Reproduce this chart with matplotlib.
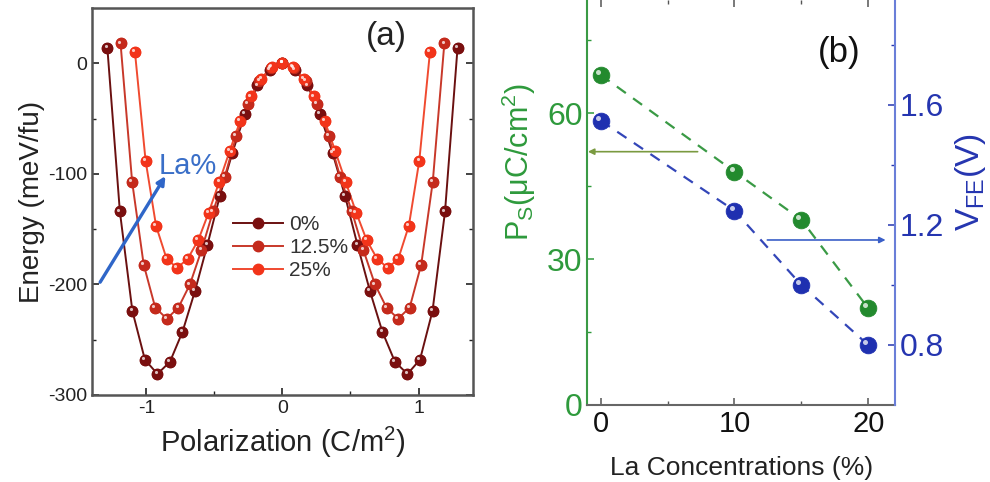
import matplotlib
matplotlib.use("Agg")
import matplotlib.pyplot as plt
from matplotlib.transforms import offset_copy

plt.rcParams["font.family"] = ["Liberation Sans", "DejaVu Sans"]
plt.rcParams["mathtext.fontset"] = "custom"
plt.rcParams["mathtext.rm"] = "Liberation Sans"
plt.rcParams["mathtext.it"] = "Liberation Sans"
plt.rcParams["axes.unicode_minus"] = False

# (a) energy vs polarization for three La contents
p_0 = [-1.287, -1.195, -1.103, -1.011, -0.919, -0.827, -0.735, -0.643, -0.551, -0.460,
       -0.368, -0.276, -0.184, -0.092, 0.0, 0.092, 0.184, 0.276, 0.368, 0.460, 0.551,
       0.643, 0.735, 0.827, 0.919, 1.011, 1.103, 1.195, 1.287]
e_0 = [14, -134, -224, -268, -281, -270, -243, -206, -164, -120, -81, -46, -20, -6, 0,
       -6, -20, -46, -81, -120, -164, -206, -243, -270, -281, -268, -224, -134, 14]

p_125 = [-1.190, -1.105, -1.020, -0.935, -0.850, -0.765, -0.680, -0.595, -0.510, -0.425,
         -0.340, -0.255, -0.170, -0.085, 0.0, 0.085, 0.170, 0.255, 0.340, 0.425, 0.510,
         0.595, 0.680, 0.765, 0.850, 0.935, 1.020, 1.105, 1.190]
e_125 = [18, -107, -182, -221, -231, -221, -200, -169, -134, -103, -66, -37, -16, -4, 0,
         -4, -16, -37, -66, -103, -134, -169, -200, -221, -231, -221, -182, -107, 18]

p_25 = [-1.084, -1.006, -0.929, -0.851, -0.774, -0.697, -0.619, -0.542, -0.464, -0.387,
        -0.310, -0.232, -0.155, -0.077, 0.0, 0.077, 0.155, 0.232, 0.310, 0.387, 0.464,
        0.542, 0.619, 0.697, 0.774, 0.851, 0.929, 1.006, 1.084]
e_25 = [10, -88, -147, -177, -185, -177, -160, -135, -107, -79, -52, -30, -14, -3, 0,
        -3, -14, -30, -52, -79, -107, -135, -160, -177, -185, -177, -147, -88, 10]

labels_a = ["0%", "12.5%", "25%"]

# (b) saturation polarization and FE voltage vs La concentration
la_conc = [0, 10, 15, 20]
ps = [67.9, 48.0, 38.1, 19.9]
vfe = [1.548, 1.248, 1.0, 0.8]


def spheres(ax, x, y, color, ms, hl=(-1.2, 1.2)):
    # ball-like markers: coloured disc plus a small bright highlight
    ax.plot(x, y, ls="none", marker="o", ms=ms, mfc=color, mec=color, mew=0.6, zorder=4)
    tr = offset_copy(ax.transData, fig=ax.figure, x=hl[0] * ms / 7, y=hl[1] * ms / 7, units="points")
    ax.plot(x, y, ls="none", marker="o", ms=ms * 0.3, mfc="white", mec="none",
            alpha=0.75, transform=tr, zorder=5)


fig = plt.figure(figsize=(9.9, 4.82), dpi=100)

# ---------------- panel (a) ----------------
ax = fig.add_axes([0.0929, 0.1805, 0.3848, 0.803])
series = [(p_0, e_0, "#7a0f0f", "#6a1010"),
          (p_125, e_125, "#c42a1c", "#c8382a"),
          (p_25, e_25, "#f2341a", "#f04a30")]
handles = []
for (px, ey, mc, lc), lab in zip(series, labels_a):
    h, = ax.plot(px, ey, color=lc, lw=1.4, marker="o", ms=7.5, mfc=mc, mec=mc, zorder=3)
    handles.append(h)
    spheres(ax, px, ey, mc, 7.5)

ax.set_xlim(-1.4, 1.4)
ax.set_ylim(-300, 50)
ax.set_xticks([-1, 0, 1])
ax.set_xticks([-0.5, 0.5], minor=True)
ax.set_yticks([0, -100, -200, -300])
ax.set_yticks([-50, -150, -250], minor=True)
ax.tick_params(which="both", direction="in", right=True, labelsize=14, colors="#222222")
ax.tick_params(which="major", length=5, width=1.2)
ax.tick_params(which="minor", length=3, width=1.0)
for s in ax.spines.values():
    s.set_color("#555555")
    s.set_linewidth(1.8)
ax.set_xlabel("Polarization (C/m$^2$)", fontsize=21, color="#222222", labelpad=6)
ax.set_ylabel("Energy (meV/fu)", fontsize=20, color="#222222", labelpad=2)

leg = ax.legend(handles, labels_a, loc="upper left", bbox_to_anchor=(0.37, 0.465),
                frameon=False, fontsize=15, handlelength=2.4, handletextpad=0.3,
                labelspacing=0.2, borderpad=0, borderaxespad=0, numpoints=1)
for t in leg.get_texts():
    t.set_color("#333333")

ax.text(0.72, 0.925, "(a)", transform=ax.transAxes, fontsize=24, color="#222222",
        ha="left", va="center")
ax.text(-0.91, -93, "La%", fontsize=21, color="#3a6fc8", ha="left", va="center")
ax.annotate("", xy=(-0.86, -102), xytext=(-1.34, -198),
            arrowprops=dict(arrowstyle="-|>", color="#2f66c8", lw=2.4, mutation_scale=12,
                            shrinkA=0, shrinkB=0))

# ---------------- panel (b) ----------------
green = "#2e9a3c"
blue = "#2535b0"
bx = fig.add_axes([0.5932, 0.1598, 0.3108, 0.8402])
bx2 = bx.twinx()

bx.plot(la_conc, ps, color="#3a9a45", lw=1.6, ls=(0, (5, 4)), zorder=2)
spheres(bx, la_conc, ps, "#238a2e", 12)
bx2.plot(la_conc, vfe, color="#3346b8", lw=1.6, ls=(0, (5, 4)), zorder=2)
spheres(bx2, la_conc, vfe, "#1f30b0", 12)

bx.set_xlim(-1, 22)
bx.set_ylim(0, 83.3)
bx2.set_ylim(0.6, 1.95)
bx.set_xticks([0, 10, 20])
bx.set_xticks([5, 15], minor=True)
bx.set_yticks([0, 30, 60])
bx.set_yticks([15, 45, 75], minor=True)
bx2.set_yticks([0.8, 1.2, 1.6])
bx2.set_yticks([1.0, 1.4, 1.8], minor=True)
bx2.set_yticklabels(["0.8", "1.2", "1.6"])

bx.tick_params(axis="x", which="both", direction="in", top=True, labelsize=21,
               colors="#555555", labelcolor="#111111")
bx.tick_params(axis="y", which="both", direction="in", labelsize=23, colors=green)
bx2.tick_params(axis="y", which="both", direction="in", labelsize=23, colors=blue)
for a in (bx, bx2):
    a.tick_params(which="major", length=5, width=1.1)
    a.tick_params(which="minor", length=3, width=1.0)

bx.spines["top"].set_visible(False)
bx.spines["right"].set_visible(False)
bx.spines["left"].set_color("#3a9a45")
bx.spines["bottom"].set_color("#666666")
for k in ("top", "left", "bottom"):
    bx2.spines[k].set_visible(False)
bx2.spines["right"].set_color("#6a7ed8")
for s in (bx.spines["left"], bx.spines["bottom"], bx2.spines["right"]):
    s.set_linewidth(1.5)

bx.set_xlabel("La Concentrations (%)", fontsize=19, color="#222222", labelpad=13)
bx.set_ylabel("P$_\\mathrm{S}$(μC/cm$^2$)", fontsize=22, color=green)
bx.yaxis.set_label_coords(-0.16, 0.6)
bx2.set_ylabel("V$_\\mathrm{FE}$(V)", fontsize=24, color=blue)
bx2.yaxis.set_label_coords(1.19, 0.55)

bx.text(0.75, 0.87, "(b)", transform=bx.transAxes, fontsize=25, color="#111111",
        ha="left", va="center")
bx.annotate("", xy=(-0.95, 52.1), xytext=(7.25, 52.1),
            arrowprops=dict(arrowstyle="-|>", color="#7a9a40", lw=1.2, mutation_scale=9,
                            shrinkA=0, shrinkB=0))
bx2.annotate("", xy=(21.3, 1.15), xytext=(12.46, 1.15),
             arrowprops=dict(arrowstyle="-|>", color="#3a5fc8", lw=1.2, mutation_scale=9,
                             shrinkA=0, shrinkB=0))

fig.savefig("out.png", dpi=100)
